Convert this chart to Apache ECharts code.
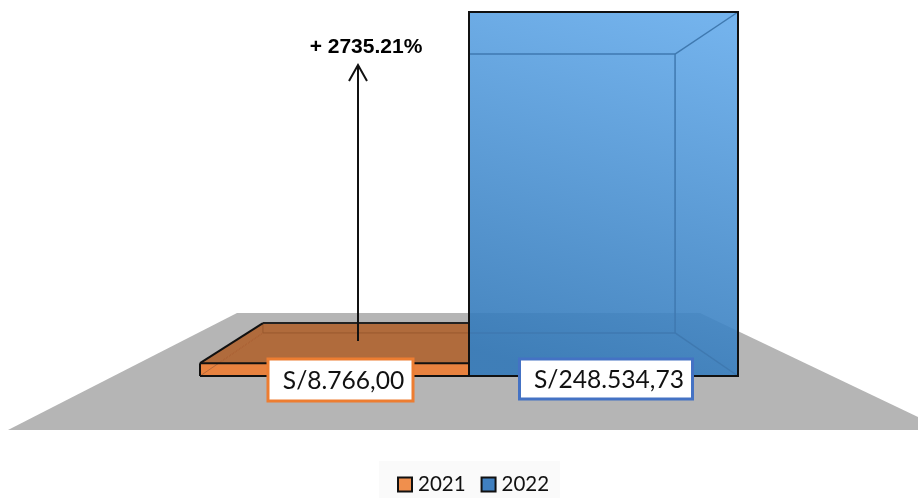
<!DOCTYPE html>
<html>
<head>
<meta charset="utf-8">
<style>html,body{margin:0;padding:0;background:#fff}#c{width:918px;height:498px}</style>
<script src="https://cdn.jsdelivr.net/npm/echarts@6/dist/echarts.min.js"></script>
</head>
<body>
<div id="c"></div>
<script>
const categories = ['2021', '2022'];
const values2021 = [8766.00];
const values2022 = [248534.73];
const valueLabels = ['S/8.766,00', 'S/248.534,73'];
const changeLabel = '+ 2735.21%';

const DEPTH = 0.766;      // scale of the back plane of the 3D box
const VANISH_Y = 192;     // vanishing point height

function depth(p, cx) { return [cx + (p[0] - cx) * DEPTH, VANISH_Y + (p[1] - VANISH_Y) * DEPTH]; }
function line(a, b, stroke, w, z2) {
  return { type: 'line', z2: z2 || 1, shape: { x1: a[0], y1: a[1], x2: b[0], y2: b[1] }, style: { stroke, lineWidth: w } };
}
function poly(pts, fill, z2) {
  return { type: 'polygon', z2: z2 || 0, shape: { points: pts }, style: { fill } };
}
function labelBox(cx, w, text, border, top, h) {
  return [
    { type: 'rect', z2: 20, shape: { x: cx - w / 2, y: top, width: w, height: h }, style: { fill: '#fff', stroke: border, lineWidth: 3 } },
    { type: 'text', z2: 21, style: { text, x: cx + 3, y: top + h / 2 + 1, align: 'center', verticalAlign: 'middle', fill: '#111', font: '24.6px Lato' } }
  ];
}

function render2021(params, api) {
  const band = api.size([1, 0])[0];
  const top = api.coord([api.value(0), api.value(1)]);
  const base = api.coord([api.value(0), 0]);
  const vx = params.coordSys.x + params.coordSys.width / 2;
  const x0 = top[0] - band / 2, x1 = top[0] + band / 2;
  const fTL = [x0, top[1]], fTR = [x1, top[1]], fBL = [x0, base[1]], fBR = [x1, base[1]];
  const bTL = depth(fTL, vx), bTR = depth(fTR, vx), bBL = depth(fBL, vx);
  const lab = labelBox(top[0] + 6, 145, valueLabels[0], '#ed7d31', 359, 42);
  return { type: 'group', children: [
    poly([fTL, bTL, bTR, fTR], '#b06b3c', 1),
    line(bTL, bBL, '#98582e', 1, 2),
    line(bBL, [bTR[0], bBL[1]], '#98582e', 1, 2),
    line(bBL, fBL, '#98582e', 1, 2),
    poly([fTL, fTR, fBR, fBL], '#e8823f', 3),
    line(bBL, fBL, '#b4693a', 1, 4),
    line(fTL, bTL, '#111', 2, 5),
    line(bTL, bTR, '#222', 2, 5),
    line(fTL, fTR, '#111', 2, 5),
    line(fBL, fBR, '#111', 2, 5),
    line(fTL, fBL, '#111', 2, 5)
  ].concat(lab) };
}

function render2022(params, api) {
  const band = api.size([1, 0])[0];
  const top = api.coord([api.value(0), api.value(1)]);
  const base = api.coord([api.value(0), 0]);
  const vx = params.coordSys.x + params.coordSys.width / 2;
  const x0 = top[0] - band / 2, x1 = top[0] + band / 2;
  const fTL = [x0, top[1]], fTR = [x1, top[1]], fBL = [x0, base[1]], fBR = [x1, base[1]];
  const bTL = depth(fTL, vx), bTR = depth(fTR, vx), bBR = depth(fBR, vx), bBL = depth(fBL, vx);
  const edge = '#3f79b0';
  const lab = labelBox(top[0] + 2.5, 173, valueLabels[1], '#4472c4', 359, 40);
  return { type: 'group', children: [
    { type: 'rect', z2: 1, shape: { x: x0, y: top[1], width: band, height: base[1] - top[1] },
      style: { fill: new echarts.graphic.LinearGradient(0.75, 0, 0.35, 1, [
        { offset: 0, color: 'rgba(100,170,234,0.9)' },
        { offset: 1, color: 'rgba(50,120,184,0.9)' }
      ]) } },
    line(bTL, bTR, edge, 1.5, 2),
    line(bTR, bBR, edge, 1.5, 2),
    line(bBL, bBR, edge, 1.5, 2),
    line(bTR, fTR, edge, 1.5, 2),
    line(bBR, fBR, edge, 1.5, 2),
    { type: 'rect', z2: 5, shape: { x: x0, y: top[1], width: band, height: base[1] - top[1] },
      style: { fill: 'none', stroke: '#111', lineWidth: 2 } }
  ].concat(lab) };
}

const chart = echarts.init(document.getElementById('c'), null, { renderer: 'canvas' });
chart.setOption({
  animation: false,
  backgroundColor: '#fff',
  grid: { left: 200, width: 538, top: 12, height: 364 },
  xAxis: { type: 'category', data: categories, show: false },
  yAxis: { type: 'value', min: 0, max: values2022[0], show: false },
  legend: {
    left: 379, top: 461,
    padding: [13, 11, 9, 18],
    backgroundColor: '#fafafa',
    data: categories,
    icon: 'rect',
    itemWidth: 14, itemHeight: 14, itemGap: 15,
    itemStyle: { borderColor: '#111', borderWidth: 2 },
    textStyle: { fontFamily: 'Lato', fontSize: 20.5, color: '#111', padding: [0, 0, 0, 1] }
  },
  graphic: [
    { type: 'polygon', z: 0, silent: true, shape: { points: [[8, 430], [237, 313], [700, 313], [945, 430]] }, style: { fill: '#b5b5b5' } },
    { type: 'polyline', z: 10, silent: true, shape: { points: [[358, 341], [358, 65]] }, style: { fill: 'none', stroke: '#111', lineWidth: 2 } },
    { type: 'polyline', z: 10, silent: true, shape: { points: [[349, 81], [358, 65], [367, 81]] }, style: { fill: 'none', stroke: '#111', lineWidth: 2 } },
    { type: 'text', z: 10, silent: true, style: { text: changeLabel, x: 366, y: 47, align: 'center', verticalAlign: 'middle', fill: '#000', font: 'bold 21px "Liberation Sans"' } }
  ],
  series: [
    { name: categories[0], type: 'custom', coordinateSystem: 'cartesian2d', z: 3, itemStyle: { color: '#f08f4d' },
      renderItem: render2021, data: values2021.map(v => [0, v]), encode: { x: 0, y: 1 }, clip: false },
    { name: categories[1], type: 'custom', coordinateSystem: 'cartesian2d', z: 4, itemStyle: { color: '#4080c0' },
      renderItem: render2022, data: values2022.map(v => [1, v]), encode: { x: 0, y: 1 }, clip: false }
  ]
});
</script>
</body>
</html>
